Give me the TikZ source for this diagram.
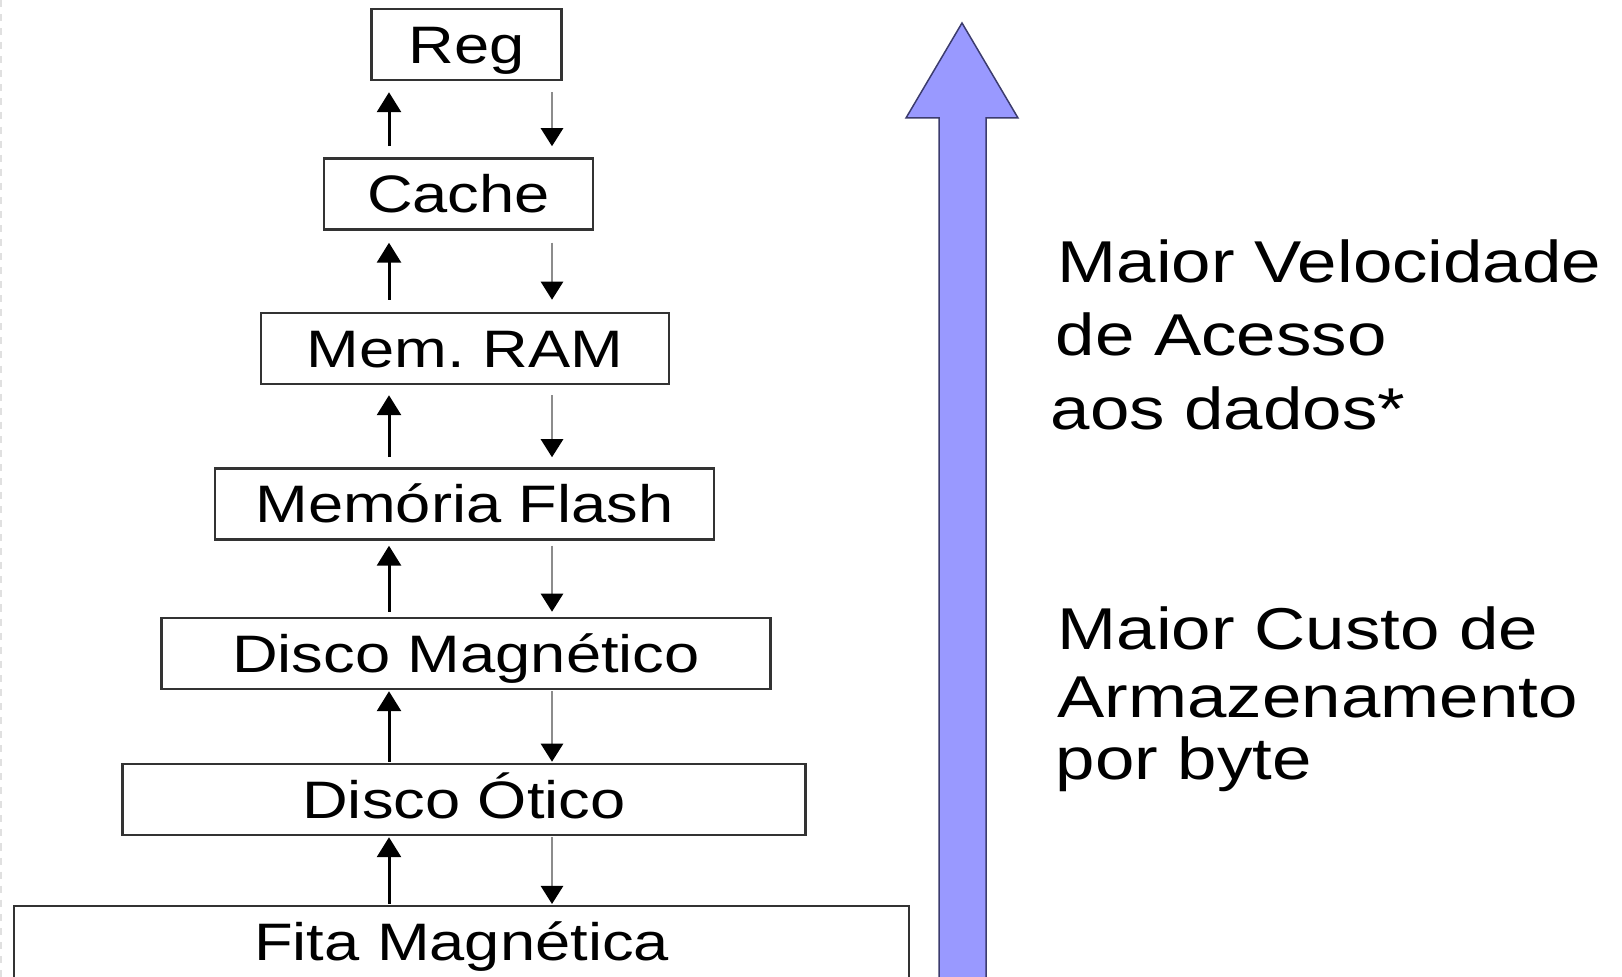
\documentclass[tikz,border=0pt]{standalone}
\usepackage{fontspec}
\setmainfont[FakeStretch=1.2]{Liberation Sans}
\usetikzlibrary{arrows.meta}
\definecolor{speedblue}{RGB}{153,153,255}
\definecolor{speededge}{RGB}{60,60,110}

\begin{document}
\begin{tikzpicture}[
    y=-1cm,
    level/.style={draw=black!80, line width=0.025cm, inner xsep=0pt, inner ysep=0.165cm,
      text height=0.38cm, text depth=0pt, font=\fontsize{15}{17}\selectfont},
    upflow/.style={line width=0.03cm, -{Triangle[width=0.24cm,length=0.2cm]}},
    downflow/.style={draw=black!45, line width=0.026cm, -{Triangle[width=0.22cm,length=0.18cm,color=black]}},
    sidetext/.style={anchor=base west, inner sep=0pt, font=\fontsize{16.8}{20}\selectfont}
  ]
  \useasboundingbox (0,0) rectangle (16.22,9.77);
  \draw[black!12, dash pattern=on 2pt off 2pt, line width=0.012cm] (0.01,0) -- (0.01,9.77);

  % memory levels
  \node[level, minimum width=1.90cm] (reg) at (4.665,0.445) {Reg};
  \node[level, minimum width=2.69cm] (cache) at (4.585,1.94) {Cache};
  \node[level, minimum width=4.08cm] (ram) at (4.65,3.485) {Mem.\ RAM};
  \node[level, minimum width=4.99cm] (flash) at (4.645,5.04) {Memória Flash};
  \node[level, minimum width=6.09cm] (discom) at (4.66,6.535) {Disco Magnético};
  \node[level, minimum width=6.83cm] (otico) at (4.64,7.995) {Disco Ótico};
  \node[level, minimum width=8.95cm, text depth=0.4cm, anchor=north] (fita) at (4.615,9.05) {Fita Magnética};

  % transfers between levels
  \coordinate (upx) at (3.89,0);
  \coordinate (downx) at (5.52,0);
  \foreach \hi/\lo/\gap in {reg/cache/0.11, cache/ram/0.12, ram/flash/0.1,
      flash/discom/0.05, discom/otico/0.01, otico/fita/0.01} {
    \draw[upflow, shorten <=\gap cm, shorten >=\gap cm] (\lo.north -| upx) -- (\hi.south -| upx);
    \draw[downflow, shorten <=\gap cm, shorten >=\gap cm] (\hi.south -| downx) -- (\lo.north -| downx);
  }

  % big arrow
  \draw[speededge, fill=speedblue, line width=0.015cm, line join=miter]
    (9.62,0.23) -- (10.18,1.18) -- (9.86,1.18) -- (9.86,10.2) -- (9.39,10.2)
    -- (9.39,1.18) -- (9.06,1.18) -- cycle;

  \node[sidetext] (speedA) at (10.57,2.83) {Maior Velocidade};
  \node[sidetext] (speedB) at (10.55,3.56) {de Acesso};
  \node[sidetext] (speedC) at (10.50,4.30) {aos dados*};
  \node[sidetext] (costA) at (10.57,6.50) {Maior Custo de};
  \node[sidetext] (costB) at (10.57,7.18) {Armazenamento};
  \node[sidetext] (costC) at (10.55,7.80) {por byte};
\end{tikzpicture}
\end{document}
